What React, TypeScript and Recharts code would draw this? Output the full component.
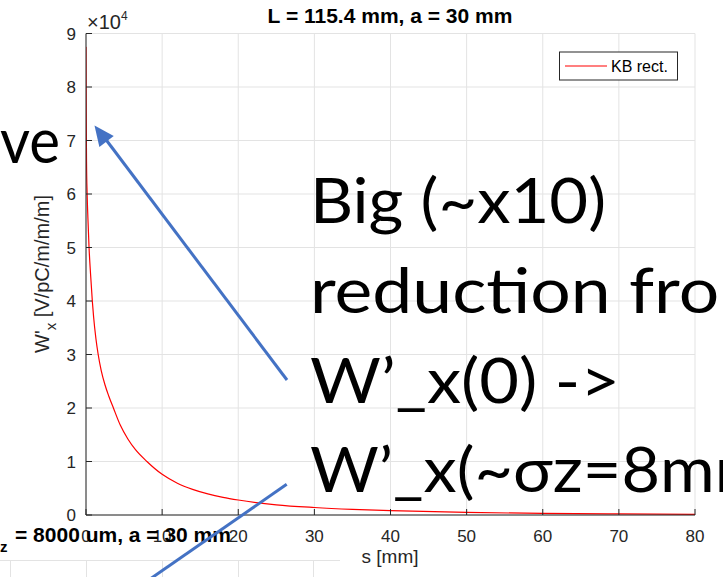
import { LineChart, Line, XAxis, YAxis, CartesianGrid } from 'recharts'

// s [mm] and W'_x [V/pC/m/m/m]
const sValues = [0, 0.03, 0.07, 0.15, 0.25, 0.4, 0.6, 0.83, 1.0, 1.3, 1.6, 2.0, 2.5, 3.0, 3.6, 4.5, 5.5, 6.5, 8, 10, 12, 14, 16, 18, 20, 25, 30, 35, 40, 50, 60, 70, 80]
const wxValues = [87500, 75000, 66000, 60000, 55500, 50000, 45000, 40000, 37000, 33000, 30000, 27000, 24300, 22200, 20000, 16800, 14200, 12200, 10000, 7600, 5950, 4800, 3950, 3300, 2800, 1900, 1400, 1050, 800, 480, 300, 200, 130]

const xTicks = [0, 10, 20, 30, 40, 50, 60, 70, 80]
const yTicks = [0, 10000, 20000, 30000, 40000, 50000, 60000, 70000, 80000, 90000]

const seriesName = 'KB rect.'
const chartTitle = 'L = 115.4 mm, a = 30 mm'
const xLabel = 's [mm]'

const slideLines = ['Big (~x10)', 'reduction from', 'W’_x(0) ->', 'W’_x(~σz=8mm)']

const W = 723
const H = 577
const axisColor = '#262626'
const arrowBlue = '#4472C4'

const data = sValues.map((s, i) => ({ s, wx: wxValues[i] }))

function arrowHead(x1: number, y1: number, x2: number, y2: number, len: number, half: number) {
    const dx = x2 - x1
    const dy = y2 - y1
    const d = Math.sqrt(dx * dx + dy * dy)
    const ux = dx / d
    const uy = dy / d
    const bx = x2 - ux * len
    const by = y2 - uy * len
    return `${x2},${y2} ${bx - uy * half},${by + ux * half} ${bx + uy * half},${by - ux * half}`
}

export default function App() {
    return (
        <div style={{ position: 'absolute', left: 0, top: 0, width: W, height: H, overflow: 'hidden', background: '#fff', fontFamily: '"Liberation Sans", Arial, sans-serif' }}>
            <LineChart width={W} height={H} data={data} margin={{ top: 33.5, right: 28, bottom: 0, left: 0 }}>
                <CartesianGrid stroke="#e3e3e3" strokeWidth={1} />
                <XAxis
                    dataKey="s"
                    type="number"
                    domain={[0, 80]}
                    ticks={xTicks}
                    height={62}
                    stroke={axisColor}
                    tickSize={-6}
                    tickMargin={21}
                    tick={{ fill: axisColor, fontSize: 17 }}
                    allowDataOverflow
                />
                <YAxis
                    type="number"
                    domain={[0, 90000]}
                    ticks={yTicks}
                    width={86}
                    stroke={axisColor}
                    tickSize={-6}
                    tickMargin={16}
                    tick={{ fill: axisColor, fontSize: 17 }}
                    tickFormatter={(v: number) => `${v / 10000}`}
                    allowDataOverflow
                />
                <Line type="monotone" dataKey="wx" name={seriesName} stroke="#ff0000" strokeWidth={1.2} dot={false} isAnimationActive={false} />
            </LineChart>

            <svg width={W} height={H} style={{ position: 'absolute', left: 0, top: 0, pointerEvents: 'none' }}>
                {/* title, axis labels, exponent */}
                <text x={390} y={23} textAnchor="middle" fontSize={21} fontWeight="bold" fill="#000">{chartTitle}</text>
                <text x={390} y={563} textAnchor="middle" fontSize={19} fill={axisColor}>{xLabel}</text>
                <text transform="translate(49,274) rotate(-90)" textAnchor="middle" fontSize={20} fill={axisColor}>
                    W'<tspan fontSize={15} dy={7}>x</tspan><tspan dy={-7}> [V/pC/m/m/m]</tspan>
                </text>
                <text x={87} y={29} fontSize={20} fill={axisColor}>×10<tspan fontSize={12} dy={-9}>4</tspan></text>

                {/* legend */}
                <rect x={559.5} y={52} width={118} height={28} fill="#fff" stroke={axisColor} strokeWidth={1} />
                <line x1={565} y1={66} x2={607} y2={66} stroke="#ff0000" strokeWidth={1.2} />
                <text x={611} y={72} fontSize={16} fill="#000">{seriesName}</text>

                {/* lower figure peeking in */}
                <line x1={0} y1={560.5} x2={340} y2={560.5} stroke="#e3e3e3" />
                {[10, 86, 162, 238, 313].map(x => (
                    <line key={x} x1={x + 0.5} y1={560} x2={x + 0.5} y2={H} stroke="#e3e3e3" />
                ))}
                <text x={15} y={542} fontSize={21} fontWeight="bold" fill="#000">= 8000 um, a = 30 mm</text>
                <text x={0} y={552} fontSize={15} fontWeight="bold" fill="#000">z</text>

                {/* slide annotation */}
                <g fontFamily="Lato, 'Open Sans', sans-serif" fill="#000" fontSize={62}>
                    <text x={0} y={163} textLength={60} lengthAdjust="spacingAndGlyphs">ve</text>
                    <text x={310} y={223} textLength={296} lengthAdjust="spacingAndGlyphs">{slideLines[0]}</text>
                    <text x={310} y={313} textLength={468} lengthAdjust="spacingAndGlyphs">{slideLines[1]}</text>
                    <text x={310} y={403} textLength={310} lengthAdjust="spacingAndGlyphs">{slideLines[2]}</text>
                    <text x={310} y={492} textLength={476} lengthAdjust="spacingAndGlyphs">{slideLines[3]}</text>
                </g>

                <line x1={287} y1={380} x2={104} y2={137} stroke={arrowBlue} strokeWidth={3} />
                <polygon points={arrowHead(287, 380, 94.5, 125.5, 20, 9)} fill={arrowBlue} />
                <line x1={286.7} y1={484.3} x2={140} y2={586} stroke={arrowBlue} strokeWidth={3} />
            </svg>
        </div>
    )
}
